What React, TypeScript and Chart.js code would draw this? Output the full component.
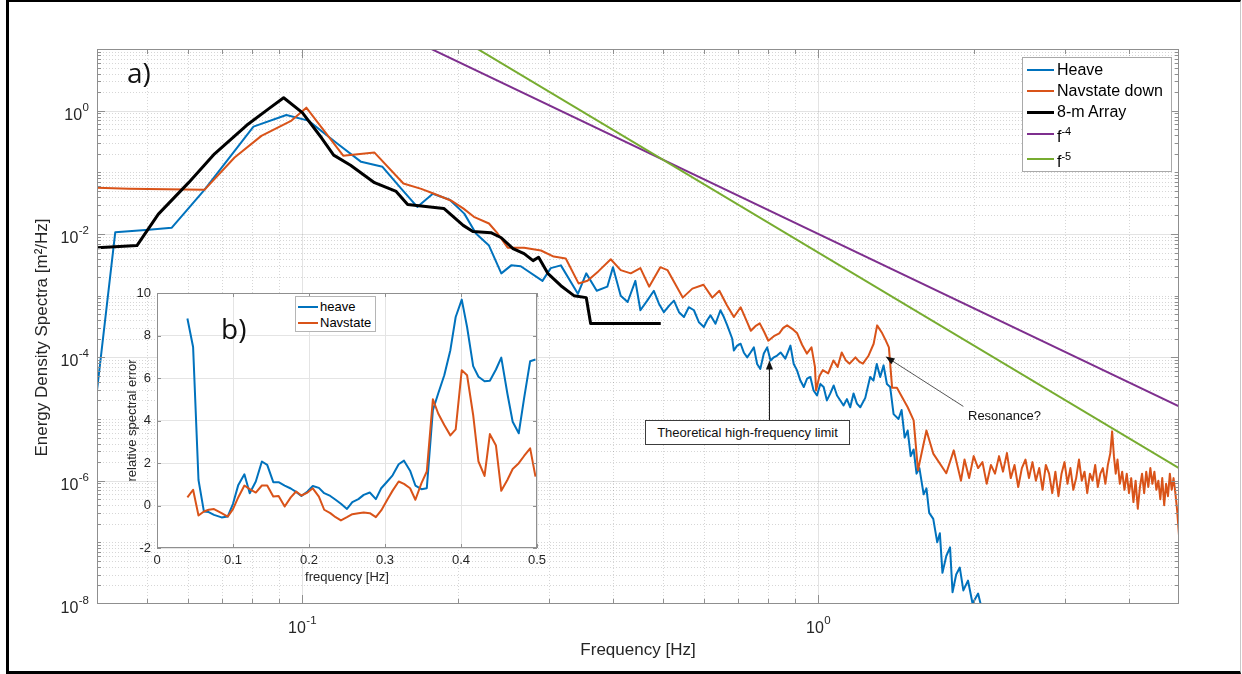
import React, { useEffect, useRef } from "react";
import { Chart, registerables } from "chart.js";

Chart.register(...registerables);

// ---------------- Panel (a): spectra ----------------
const heaveFreq = [0.040, 0.0434, 0.0504, 0.0558, 0.0646, 0.0804, 0.0931, 0.1027, 0.117, 0.130,
  0.143, 0.155, 0.167, 0.179, 0.193, 0.206, 0.217, 0.230, 0.243, 0.254,
  0.265, 0.292, 0.303, 0.317, 0.342, 0.355, 0.372, 0.390, 0.400, 0.414,
  0.427, 0.442, 0.452, 0.466, 0.480, 0.491, 0.502, 0.514, 0.525, 0.537,
  0.549, 0.561, 0.574, 0.587, 0.600, 0.609, 0.618, 0.632, 0.646, 0.656,
  0.666, 0.681, 0.686, 0.696, 0.707, 0.717, 0.728, 0.739, 0.750, 0.761,
  0.772, 0.784, 0.796, 0.808, 0.820, 0.832, 0.845, 0.863, 0.883, 0.896,
  0.909, 0.923, 0.937, 0.951, 0.965, 0.979, 0.994, 1.009, 1.024, 1.039,
  1.055, 1.071, 1.087, 1.103, 1.119, 1.136, 1.153, 1.170, 1.188, 1.206,
  1.233, 1.260, 1.279, 1.298, 1.318, 1.338, 1.358, 1.378, 1.399, 1.43,
  1.45, 1.47, 1.49, 1.51, 1.53, 1.55, 1.57, 1.60, 1.62, 1.64,
  1.67, 1.70, 1.72, 1.74, 1.77, 1.80, 1.82, 1.85, 1.88, 1.91,
  1.95, 1.99, 2.04, 2.10];
const heaveSpec = [2.9e-5, 0.0107, 0.0117, 0.0126, 0.052, 0.55, 0.85, 0.69, 0.29, 0.148,
  0.123, 0.056, 0.0275, 0.045, 0.036, 0.0214, 0.0102, 0.0065, 0.0023, 0.0031,
  0.0030, 0.00174, 0.0028, 0.0031, 0.00107, 0.0023, 0.0012, 0.0014, 0.0029, 0.0010,
  0.00079, 0.00174, 5.8e-4, 8.3e-4, 1.2e-3, 7.4e-4, 5.4e-4, 6.9e-4, 8.3e-4, 5.4e-4,
  4.5e-4, 6.5e-4, 5.8e-4, 3.7e-4, 3.1e-4, 4.0e-4, 4.8e-4, 3.5e-4, 5.8e-4, 4.5e-4,
  3.3e-4, 2.0e-4, 1.29e-4, 1.55e-4, 1.66e-4, 1.2e-4, 1.0e-4, 1.2e-4, 1.45e-4, 7.8e-5,
  6.5e-5, 1.15e-4, 1.45e-4, 8.9e-5, 1.0e-4, 1.07e-4, 1.2e-4, 9.5e-5, 1.55e-4, 7.8e-5,
  6.2e-5, 4.2e-5, 3.3e-5, 4.5e-5, 4.8e-5, 2.9e-5, 2.4e-5, 3.7e-5, 3.3e-5, 2.0e-5,
  2.6e-5, 3.5e-5, 2.4e-5, 2.0e-5, 1.66e-5, 2.1e-5, 1.55e-5, 2.6e-5, 1.78e-5, 1.55e-5,
  2.2e-5, 4.8e-5, 4.2e-5, 7.8e-5, 4.8e-5, 7.4e-5, 3.7e-5, 3.3e-5, 1.2e-5, 1.0e-5,
  1.4e-5, 5.0e-6, 6.5e-6, 2.5e-6, 3.2e-6, 1.3e-6, 1.6e-6, 6.0e-7, 7.5e-7, 3.0e-7,
  2.4e-7, 1.0e-7, 1.4e-7, 3.2e-8, 6.0e-8, 8.3e-8, 1.55e-8, 3.0e-8, 3.9e-8, 1.66e-8,
  2.4e-8, 1.02e-8, 1.48e-8, 5.4e-9];

const navFreq = [0.040, 0.0461, 0.0646, 0.0739, 0.0833, 0.0953, 0.1018, 0.120, 0.138, 0.157,
  0.170, 0.180, 0.194, 0.205, 0.215, 0.230, 0.239, 0.250, 0.269, 0.290,
  0.307, 0.324, 0.343, 0.357, 0.375, 0.396, 0.414, 0.433, 0.452, 0.470,
  0.494, 0.510, 0.546, 0.570, 0.599, 0.623, 0.643, 0.665, 0.686, 0.707,
  0.725, 0.74, 0.755, 0.77, 0.785, 0.80, 0.82, 0.84, 0.855, 0.87,
  0.89, 0.91, 0.93, 0.95, 0.97, 0.985, 0.99, 1.005, 1.02, 1.045,
  1.07, 1.09, 1.11, 1.13, 1.15, 1.18, 1.20, 1.22, 1.25, 1.28,
  1.30, 1.33, 1.35, 1.37, 1.39, 1.42, 1.49, 1.53, 1.56, 1.62,
  1.67, 1.77, 1.83, 1.89];
const navSpec = [0.056, 0.054, 0.052, 0.174, 0.39, 0.69, 1.12, 0.186, 0.209, 0.066,
  0.054, 0.045, 0.035, 0.026, 0.019, 0.0148, 0.0102, 0.0060, 0.0060, 0.0054,
  0.0043, 0.0040, 0.00158, 0.00174, 0.0025, 0.0039, 0.0026, 0.0023, 0.0028, 0.0014,
  0.0029, 0.0026, 0.00093, 0.0013, 0.0015, 0.00093, 0.0012, 7.0e-4, 4.5e-4, 6.5e-4,
  4.0e-4, 2.7e-4, 3.2e-4, 3.55e-4, 2.6e-4, 1.86e-4, 2.2e-4, 2.45e-4, 3.0e-4, 3.3e-4,
  2.9e-4, 2.45e-4, 1.6e-4, 1.15e-4, 1.45e-4, 7.0e-5, 2.9e-5, 5.0e-5, 6.2e-5, 5.5e-5,
  8.9e-5, 7.0e-5, 1.2e-4, 9.0e-5, 7.9e-5, 1.0e-4, 8.5e-5, 7.9e-5, 1.05e-4, 1.66e-4,
  3.3e-4, 2.45e-4, 1.9e-4, 1.45e-4, 3.2e-5, 3.2e-5, 1.55e-5, 9.5e-6, 1.48e-6, 6.5e-6,
  2.75e-6, 1.32e-6, 3.1e-6, 1.0e-6];

const navTailFreq = [1.92, 1.96, 2.00, 2.04, 2.08, 2.12, 2.16, 2.20, 2.24, 2.28,
  2.32, 2.36, 2.40, 2.44, 2.48, 2.52, 2.56, 2.60, 2.64, 2.68,
  2.72, 2.76, 2.80, 2.84, 2.88, 2.92, 2.96, 3.00, 3.04, 3.08,
  3.12, 3.16, 3.20, 3.24, 3.28, 3.32, 3.36, 3.40, 3.44, 3.48,
  3.52, 3.56, 3.60, 3.64, 3.68, 3.71, 3.74, 3.77, 3.80, 3.84,
  3.88, 3.92, 3.96, 4.00, 4.04, 4.08, 4.12, 4.16, 4.20, 4.24,
  4.28, 4.32, 4.36, 4.40, 4.44, 4.48, 4.52, 4.56, 4.60, 4.64,
  4.68, 4.72, 4.76, 4.80, 4.84, 4.88, 4.92, 4.96, 5.00];
const navTailSpec = [2.2e-6, 1.1e-6, 2.5e-6, 1.6e-6, 2.0e-6, 8.9e-7, 1.8e-6, 1.3e-6, 2.5e-6, 1.4e-6,
  2.8e-6, 1.1e-6, 1.8e-6, 7.9e-7, 1.6e-6, 2.2e-6, 1.1e-6, 2.0e-6, 1.0e-6, 1.6e-6,
  7.1e-7, 1.8e-6, 1.3e-6, 6.3e-7, 1.4e-6, 5.6e-7, 1.3e-6, 2.0e-6, 8.9e-7, 1.6e-6,
  7.1e-7, 1.1e-6, 2.2e-6, 1.0e-6, 1.4e-6, 6.3e-7, 1.3e-6, 1.0e-6, 1.8e-6, 7.9e-7,
  1.3e-6, 1.6e-6, 8.9e-7, 1.8e-6, 2.8e-6, 6.3e-6, 2.5e-6, 1.3e-6, 2.2e-6, 8.9e-7,
  1.4e-6, 7.1e-7, 1.3e-6, 6.3e-7, 1.1e-6, 4.5e-7, 1.0e-6, 3.5e-7, 7.9e-7, 1.3e-6,
  6.3e-7, 1.4e-6, 7.9e-7, 1.6e-6, 8.9e-7, 1.4e-6, 7.1e-7, 1.0e-6, 5.0e-7, 1.1e-6,
  4.0e-7, 8.9e-7, 5.6e-7, 1.3e-6, 7.1e-7, 1.1e-6, 6.3e-7, 3.2e-7, 1.3e-7];

const arrayFreq = [0.040, 0.0478, 0.0526, 0.0602, 0.0676, 0.078, 0.086, 0.092, 0.100, 0.109,
  0.115, 0.124, 0.138, 0.152, 0.160, 0.188, 0.205, 0.214, 0.232, 0.243,
  0.256, 0.269, 0.280, 0.287, 0.299, 0.317, 0.336, 0.355, 0.362, 0.495];
const arraySpec = [6.0e-3, 6.5e-3, 2.1e-2, 6.8e-2, 0.20, 0.58, 1.07, 1.62, 0.93, 0.36,
  0.19, 0.13, 0.068, 0.049, 0.030, 0.026, 0.0138, 0.011, 0.0105, 0.0087,
  0.0058, 0.0048, 0.0037, 0.0042, 0.0023, 0.00145, 0.0010, 0.00093, 0.000355, 0.000355];

const f4Freq = [0.1, 5];
const f4Spec = [100, 1.6e-5];
const f5Freq = [0.1, 5];
const f5Spec = [500, 1.6e-6];

const seriesNames = ["Heave", "Navstate down", "8-m Array", "f^-4", "f^-5"];

// axis ticks / titles (a)
const xTicks = [0.04, 0.05, 0.06, 0.07, 0.08, 0.09, 0.1, 0.2, 0.3, 0.4, 0.5, 0.6, 0.7, 0.8, 0.9, 1, 2, 3, 4, 5];
const xMajor = [0.1, 1];
const xLabelExp = ["-1", "0"];
const yDecades = [-8, -7, -6, -5, -4, -3, -2, -1, 0];
const yMantissas = [1, 2, 3, 4, 5, 6, 7, 8, 9];
const yMajor = [1e-8, 1e-6, 1e-4, 1e-2, 1];
const yLabelExp = ["-8", "-6", "-4", "-2", "0"];
const xTitle = "Frequency [Hz]";
const yTitle = "Energy Density Spectra [m²/Hz]";

// annotations (a)
const limitArrow = { tailF: 0.804, tailS: 9.5e-6, tipF: 0.804, tipS: 8.9e-5 };
const resonanceArrow = { tailF: 1.91, tailS: 1.6e-5, tipF: 1.35, tipS: 1.03e-4 };
const limitText = "Theoretical high-frequency limit";
const resonanceText = "Resonance?";

// ---------------- Panel (b): relative spectral error ----------------
const insetFreq = [0.040, 0.0475, 0.0546, 0.0617, 0.068, 0.075, 0.085, 0.093,
  0.100, 0.107, 0.115, 0.122, 0.130, 0.138, 0.145, 0.153, 0.160, 0.168,
  0.176, 0.183, 0.190, 0.198, 0.205, 0.213, 0.220, 0.228, 0.235, 0.242,
  0.250, 0.257, 0.265, 0.272, 0.280, 0.288, 0.295, 0.303, 0.310, 0.318,
  0.325, 0.333, 0.340, 0.348, 0.355, 0.363, 0.370, 0.378, 0.386, 0.393,
  0.401, 0.408, 0.416, 0.423, 0.431, 0.438, 0.446, 0.453, 0.461, 0.468,
  0.476, 0.483, 0.491, 0.498];
const insetHeave = [8.8, 7.46, 1.2, -0.28, -0.31, -0.44, -0.56, -0.52,
  0.08, 0.97, 1.47, 0.58, 1.13, 2.07, 1.91, 1.1, 1.1, 0.94,
  0.8, 0.64, 0.45, 0.66, 0.92, 0.83, 0.58, 0.45, 0.27, 0.08,
  -0.16, 0.16, 0.3, 0.5, 0.61, 0.3, 0.81, 1.13, 1.42, 1.94,
  2.11, 1.64, 0.94, 0.77, 0.81, 4.49, 5.27, 6.13, 7.31, 8.87,
  9.69, 8.4, 6.56, 6.06, 5.85, 5.87, 6.4, 6.96, 5.27, 3.94,
  3.4, 5.04, 6.79, 6.87];
const insetNav = [0.38, 0.74, -0.47, -0.28, -0.2, -0.17, -0.36, -0.52,
  -0.17, 0.39, 0.94, 0.77, 0.61, 0.94, 0.94, 0.42, 0.45, -0.05,
  0.38, 0.66, 0.47, 0.61, 0.81, 0.42, -0.2, -0.36, -0.55, -0.7,
  -0.55, -0.41, -0.36, -0.33, -0.36, -0.55, -0.23, 0.27, 0.7, 1.13,
  1.02, 0.81, 0.27, 1.05, 1.6, 5.0, 4.33, 3.79, 3.3, 3.58,
  6.37, 6.13, 4.26, 2.07, 1.39, 3.36, 2.82, 0.69, 1.2, 1.72,
  1.99, 2.33, 2.69, 1.36];
const insetNames = ["heave", "Navstate"];
const insetXTicks = [0, 0.1, 0.2, 0.3, 0.4, 0.5];
const insetXLabels = ["0", "0.1", "0.2", "0.3", "0.4", "0.5"];
const insetYTicks = [-2, 0, 2, 4, 6, 8, 10];
const insetYLabels = ["-2", "0", "2", "4", "6", "8", "10"];

// ---------------- styles ----------------
const FONT = "'Liberation Sans', Arial, Helvetica, sans-serif";
const TEXT = "#262626";
const BLUE = "#0072BD";
const ORANGE = "#D95319";
const PURPLE = "#7E2F8E";
const GREEN = "#77AC30";
const AXIS = "#8f8f8f";
const W = 1242;
const H = 674;

const pts = (xs: number[], ys: number[]) => xs.map((x, i) => ({ x, y: ys[i] }));
const sameLog = (a: number, b: number) => Math.abs(Math.log10(a) - Math.log10(b)) < 1e-6;
const yTicks = yDecades
  .flatMap((d) => yMantissas.map((m) => m * Math.pow(10, d)))
  .concat([10]);

// "10" with a raised exponent, MATLAB-like
function drawPow(ctx: any, exp: string, x: number, baseY: number, align: string) {
  const baseFont = `16px ${FONT}`;
  const supFont = `11.5px ${FONT}`;
  ctx.font = baseFont;
  const wb = ctx.measureText("10").width;
  ctx.font = supFont;
  const ws = ctx.measureText(exp).width;
  const total = wb + ws + 0.5;
  const x0 = align === "center" ? x - total / 2 : x - total;
  ctx.textAlign = "left";
  ctx.textBaseline = "alphabetic";
  ctx.font = baseFont;
  ctx.fillText("10", x0, baseY);
  ctx.font = supFont;
  ctx.fillText(exp, x0 + wb + 0.5, baseY - 9);
}

function drawArrow(ctx: any, x1: number, y1: number, x2: number, y2: number) {
  const a = Math.atan2(y2 - y1, x2 - x1);
  const len = 9;
  const half = 3.5;
  ctx.beginPath();
  ctx.moveTo(x1, y1);
  ctx.lineTo(x2 - Math.cos(a) * len * 0.7, y2 - Math.sin(a) * len * 0.7);
  ctx.stroke();
  ctx.beginPath();
  ctx.moveTo(x2, y2);
  ctx.lineTo(x2 - len * Math.cos(a) + half * Math.sin(a), y2 - len * Math.sin(a) - half * Math.cos(a));
  ctx.lineTo(x2 - len * Math.cos(a) - half * Math.sin(a), y2 - len * Math.sin(a) + half * Math.cos(a));
  ctx.closePath();
  ctx.fill();
}

const mainDecor = {
  id: "mainDecor",
  beforeDatasetsDraw(chart: any) {
    const { ctx, chartArea: a, scales } = chart;
    const xs = scales.x;
    const ys = scales.y;
    ctx.save();
    ctx.lineWidth = 1;
    // minor dotted grid
    ctx.strokeStyle = "rgba(0,0,0,0.16)";
    ctx.setLineDash([1, 2]);
    ctx.beginPath();
    xs.ticks.forEach((t: any) => {
      if (xMajor.some((m) => sameLog(m, t.value))) return;
      const px = Math.round(xs.getPixelForValue(t.value)) + 0.5;
      if (px <= a.left + 1 || px >= a.right - 1) return;
      ctx.moveTo(px, a.top);
      ctx.lineTo(px, a.bottom);
    });
    ys.ticks.forEach((t: any) => {
      if (yMajor.some((m) => sameLog(m, t.value))) return;
      const py = Math.round(ys.getPixelForValue(t.value)) + 0.5;
      if (py <= a.top + 1 || py >= a.bottom - 1) return;
      ctx.moveTo(a.left, py);
      ctx.lineTo(a.right, py);
    });
    ctx.stroke();
    // major solid grid
    ctx.setLineDash([]);
    ctx.strokeStyle = "rgba(0,0,0,0.11)";
    ctx.beginPath();
    xMajor.forEach((v) => {
      const px = Math.round(xs.getPixelForValue(v)) + 0.5;
      ctx.moveTo(px, a.top);
      ctx.lineTo(px, a.bottom);
    });
    yMajor.forEach((v) => {
      const py = Math.round(ys.getPixelForValue(v)) + 0.5;
      if (py >= a.bottom - 1) return;
      ctx.moveTo(a.left, py);
      ctx.lineTo(a.right, py);
    });
    ctx.stroke();
    ctx.restore();
  },
  afterDatasetsDraw(chart: any) {
    const { ctx, chartArea: a, scales } = chart;
    const xs = scales.x;
    const ys = scales.y;
    ctx.save();
    ctx.lineWidth = 1;
    ctx.strokeStyle = AXIS;
    ctx.strokeRect(a.left + 0.5, a.top + 0.5, a.right - a.left - 1, a.bottom - a.top - 1);
    ctx.beginPath();
    xs.ticks.forEach((t: any) => {
      const px = Math.round(xs.getPixelForValue(t.value)) + 0.5;
      if (px <= a.left + 1 || px >= a.right - 1) return;
      const len = xMajor.some((m) => sameLog(m, t.value)) ? 9 : 5;
      ctx.moveTo(px, a.bottom);
      ctx.lineTo(px, a.bottom - len);
      ctx.moveTo(px, a.top);
      ctx.lineTo(px, a.top + len);
    });
    ys.ticks.forEach((t: any) => {
      const py = Math.round(ys.getPixelForValue(t.value)) + 0.5;
      if (py <= a.top + 1 || py >= a.bottom - 1) return;
      const len = yMajor.some((m) => sameLog(m, t.value)) ? 8 : 4;
      ctx.moveTo(a.left, py);
      ctx.lineTo(a.left + len, py);
      ctx.moveTo(a.right, py);
      ctx.lineTo(a.right - len, py);
    });
    ctx.stroke();

    // tick labels (powers of ten)
    ctx.fillStyle = TEXT;
    xMajor.forEach((v, i) => {
      drawPow(ctx, xLabelExp[i], xs.getPixelForValue(v), a.bottom + 29, "center");
    });
    yMajor.forEach((v, i) => {
      drawPow(ctx, yLabelExp[i], a.left - 8, ys.getPixelForValue(v) + 9, "right");
    });

    // y-axis title
    ctx.save();
    ctx.translate(42, (a.top + a.bottom) / 2 + 11);
    ctx.rotate(-Math.PI / 2);
    ctx.font = `17px ${FONT}`;
    ctx.textAlign = "center";
    ctx.textBaseline = "middle";
    ctx.fillText(yTitle, 0, 0);
    ctx.restore();

    // annotation arrows
    ctx.strokeStyle = "#111";
    ctx.fillStyle = "#111";
    drawArrow(ctx,
      xs.getPixelForValue(limitArrow.tailF), ys.getPixelForValue(limitArrow.tailS),
      xs.getPixelForValue(limitArrow.tipF), ys.getPixelForValue(limitArrow.tipS));
    ctx.strokeStyle = "#555";
    ctx.fillStyle = "#111";
    drawArrow(ctx,
      xs.getPixelForValue(resonanceArrow.tailF), ys.getPixelForValue(resonanceArrow.tailS),
      xs.getPixelForValue(resonanceArrow.tipF), ys.getPixelForValue(resonanceArrow.tipS));
    ctx.restore();
  },
};

const insetDecor = {
  id: "insetDecor",
  beforeDraw(chart: any) {
    const { ctx, chartArea: a } = chart;
    ctx.save();
    ctx.fillStyle = "#fff";
    ctx.fillRect(a.left, a.top, a.right - a.left, a.bottom - a.top);
    ctx.restore();
  },
  afterDraw(chart: any) {
    const { ctx, chartArea: a, scales } = chart;
    ctx.save();
    ctx.lineWidth = 1;
    ctx.strokeStyle = AXIS;
    ctx.strokeRect(a.left + 0.5, a.top + 0.5, a.right - a.left - 1, a.bottom - a.top - 1);
    ctx.beginPath();
    insetXTicks.forEach((v) => {
      const px = Math.round(scales.x.getPixelForValue(v)) + 0.5;
      ctx.moveTo(px, a.bottom);
      ctx.lineTo(px, a.bottom - 4);
      ctx.moveTo(px, a.top);
      ctx.lineTo(px, a.top + 4);
    });
    insetYTicks.forEach((v) => {
      const py = Math.round(scales.y.getPixelForValue(v)) + 0.5;
      ctx.moveTo(a.left, py);
      ctx.lineTo(a.left + 4, py);
      ctx.moveTo(a.right, py);
      ctx.lineTo(a.right - 4, py);
    });
    ctx.stroke();
    ctx.restore();
  },
};

function renderLabel(name: string, supSize: number, lift: number) {
  const parts = name.split("^");
  if (parts.length < 2) return name;
  return (
    <span>
      {parts[0]}
      <span style={{ fontSize: supSize, position: "relative", top: -lift }}>{parts[1]}</span>
    </span>
  );
}

const seriesColors = [BLUE, ORANGE, "#000", PURPLE, GREEN];
const seriesSampleWidth = [2, 2, 3, 2, 2];
const legendRowCenter = [12, 33, 54, 76, 101];
const legendTextShift = [0, 0, 0, 3, 3];
const insetColors = [BLUE, ORANGE];
const insetRowCenter = [10, 26];

export default function App() {
  const mainRef = useRef<HTMLCanvasElement>(null);
  const insetRef = useRef<HTMLCanvasElement>(null);

  useEffect(() => {
    const main = new Chart(mainRef.current as HTMLCanvasElement, {
      type: "line",
      data: {
        datasets: [
          { label: seriesNames[0], data: pts(heaveFreq, heaveSpec), borderColor: BLUE, borderWidth: 2, order: 5 },
          { label: seriesNames[1], data: pts(navFreq.concat(navTailFreq), navSpec.concat(navTailSpec)), borderColor: ORANGE, borderWidth: 2, order: 4 },
          { label: seriesNames[2], data: pts(arrayFreq, arraySpec), borderColor: "#000", borderWidth: 3, order: 3 },
          { label: seriesNames[3], data: pts(f4Freq, f4Spec), borderColor: PURPLE, borderWidth: 2, order: 2 },
          { label: seriesNames[4], data: pts(f5Freq, f5Spec), borderColor: GREEN, borderWidth: 2, order: 1 },
        ],
      },
      options: {
        animation: false,
        responsive: false,
        maintainAspectRatio: false,
        devicePixelRatio: 1,
        events: [],
        layout: { padding: { left: 0, top: 49, right: 63, bottom: 0 } },
        elements: { point: { radius: 0 }, line: { tension: 0, fill: false, borderJoinStyle: "round" } },
        plugins: { legend: { display: false }, tooltip: { enabled: false } },
        scales: {
          x: {
            type: "logarithmic",
            min: 0.04,
            max: 5,
            afterBuildTicks: (s: any) => { s.ticks = xTicks.map((v) => ({ value: v })); },
            afterFit: (s: any) => { s.height = 70; },
            grid: { display: false, drawTicks: false },
            border: { display: false },
            ticks: { display: false },
            title: { display: true, text: xTitle, color: TEXT, font: { family: FONT, size: 17 }, padding: { top: 0, bottom: 13 } },
          },
          y: {
            type: "logarithmic",
            min: 1e-8,
            max: 10,
            afterBuildTicks: (s: any) => { s.ticks = yTicks.map((v) => ({ value: v })); },
            afterFit: (s: any) => { s.width = 97; },
            grid: { display: false, drawTicks: false },
            border: { display: false },
            ticks: { display: false },
            title: { display: false, text: yTitle },
          },
        },
      } as any,
      plugins: [mainDecor],
    } as any);

    const inset = new Chart(insetRef.current as HTMLCanvasElement, {
      type: "line",
      data: {
        datasets: [
          { label: insetNames[0], data: pts(insetFreq, insetHeave), borderColor: BLUE, borderWidth: 2, order: 2 },
          { label: insetNames[1], data: pts(insetFreq, insetNav), borderColor: ORANGE, borderWidth: 2, order: 1 },
        ],
      },
      options: {
        animation: false,
        responsive: false,
        maintainAspectRatio: false,
        devicePixelRatio: 1,
        events: [],
        layout: { padding: { left: 120, top: 293, right: 705, bottom: 84 } },
        elements: { point: { radius: 0 }, line: { tension: 0, fill: false, borderJoinStyle: "round" } },
        plugins: { legend: { display: false }, tooltip: { enabled: false } },
        scales: {
          x: {
            type: "linear",
            min: 0,
            max: 0.5,
            afterBuildTicks: (s: any) => { s.ticks = insetXTicks.map((v) => ({ value: v })); },
            afterFit: (s: any) => { s.height = 42; },
            grid: { color: "#e4e4e4", drawTicks: false },
            border: { display: false },
            ticks: {
              autoSkip: false, maxRotation: 0, padding: 5, color: TEXT,
              font: { family: FONT, size: 13 },
              callback: (_v: any, i: number) => insetXLabels[i],
            },
            title: { display: true, text: "frequency [Hz]", color: TEXT, font: { family: FONT, size: 13 }, padding: { top: 0, bottom: 5 } },
          },
          y: {
            type: "linear",
            min: -2,
            max: 10,
            afterBuildTicks: (s: any) => { s.ticks = insetYTicks.map((v) => ({ value: v })); },
            afterFit: (s: any) => { s.width = 37; },
            grid: { color: "#e4e4e4", drawTicks: false },
            border: { display: false },
            ticks: {
              autoSkip: false, padding: 6, color: TEXT,
              font: { family: FONT, size: 13 },
              callback: (_v: any, i: number) => insetYLabels[i],
            },
            title: { display: true, text: "relative spectral error", color: TEXT, font: { family: FONT, size: 13 }, padding: { top: 5, bottom: 0 } },
          },
        },
      } as any,
      plugins: [insetDecor],
    } as any);

    return () => {
      main.destroy();
      inset.destroy();
    };
  }, []);

  const canvasStyle: any = { position: "absolute", left: 0, top: 0, width: W, height: H };

  return (
    <div style={{ position: "fixed", left: 0, top: 0, width: W, height: H, background: "#fff", overflow: "hidden" }}>
      <canvas ref={mainRef} width={W} height={H} style={canvasStyle} />
      <canvas ref={insetRef} width={W} height={H} style={canvasStyle} />

      {/* legend (a) */}
      <div style={{ position: "absolute", left: 1022, top: 57, width: 150, height: 115, boxSizing: "border-box", background: "#fff", border: "1px solid #a9a9a9", fontFamily: FONT, fontSize: 16, color: "#000" }}>
        {seriesNames.map((name, i) => (
          <React.Fragment key={name}>
            <div style={{ position: "absolute", left: 4, top: legendRowCenter[i] - seriesSampleWidth[i] / 2, width: 27, height: seriesSampleWidth[i], background: seriesColors[i] }} />
            <div style={{ position: "absolute", left: 34, top: legendRowCenter[i] - 10 + legendTextShift[i], lineHeight: "20px", whiteSpace: "nowrap" }}>
              {renderLabel(name, 11, 7)}
            </div>
          </React.Fragment>
        ))}
      </div>

      {/* legend (b) */}
      <div style={{ position: "absolute", left: 295, top: 296, width: 81, height: 36, boxSizing: "border-box", background: "#fff", border: "1px solid #b5b5b5", fontFamily: FONT, fontSize: 13, color: "#000" }}>
        {insetNames.map((name, i) => (
          <React.Fragment key={name}>
            <div style={{ position: "absolute", left: 2, top: insetRowCenter[i] - 1, width: 20, height: 2, background: insetColors[i] }} />
            <div style={{ position: "absolute", left: 24, top: insetRowCenter[i] - 8, lineHeight: "16px", whiteSpace: "nowrap" }}>{name}</div>
          </React.Fragment>
        ))}
      </div>

      {/* panel labels */}
      <div style={{ position: "absolute", left: 127, top: 58, fontFamily: "'Open Sans', sans-serif", fontSize: 28, lineHeight: "28px", color: "#111" }}>a)</div>
      <div style={{ position: "absolute", left: 221, top: 314, fontFamily: "'Open Sans', sans-serif", fontSize: 28, lineHeight: "28px", color: "#111" }}>b)</div>

      {/* annotation texts */}
      <div style={{ position: "absolute", left: 645, top: 420, width: 205, height: 25, boxSizing: "border-box", border: "1px solid #3c3c3c", background: "#fff", fontFamily: FONT, fontSize: 13, color: "#111", display: "flex", alignItems: "center", justifyContent: "center", whiteSpace: "nowrap" }}>
        {limitText}
      </div>
      <div style={{ position: "absolute", left: 968, top: 409, fontFamily: FONT, fontSize: 13, lineHeight: "13px", color: "#111", whiteSpace: "nowrap" }}>{resonanceText}</div>

      {/* figure frame */}
      <div style={{ position: "absolute", left: 6, top: 0, width: 1235, height: H, boxSizing: "border-box", borderLeft: "3px solid #000", borderTop: "2px solid #000", borderBottom: "3px solid #000", borderRight: "1px solid #c8c8c8", pointerEvents: "none" }} />
    </div>
  );
}
